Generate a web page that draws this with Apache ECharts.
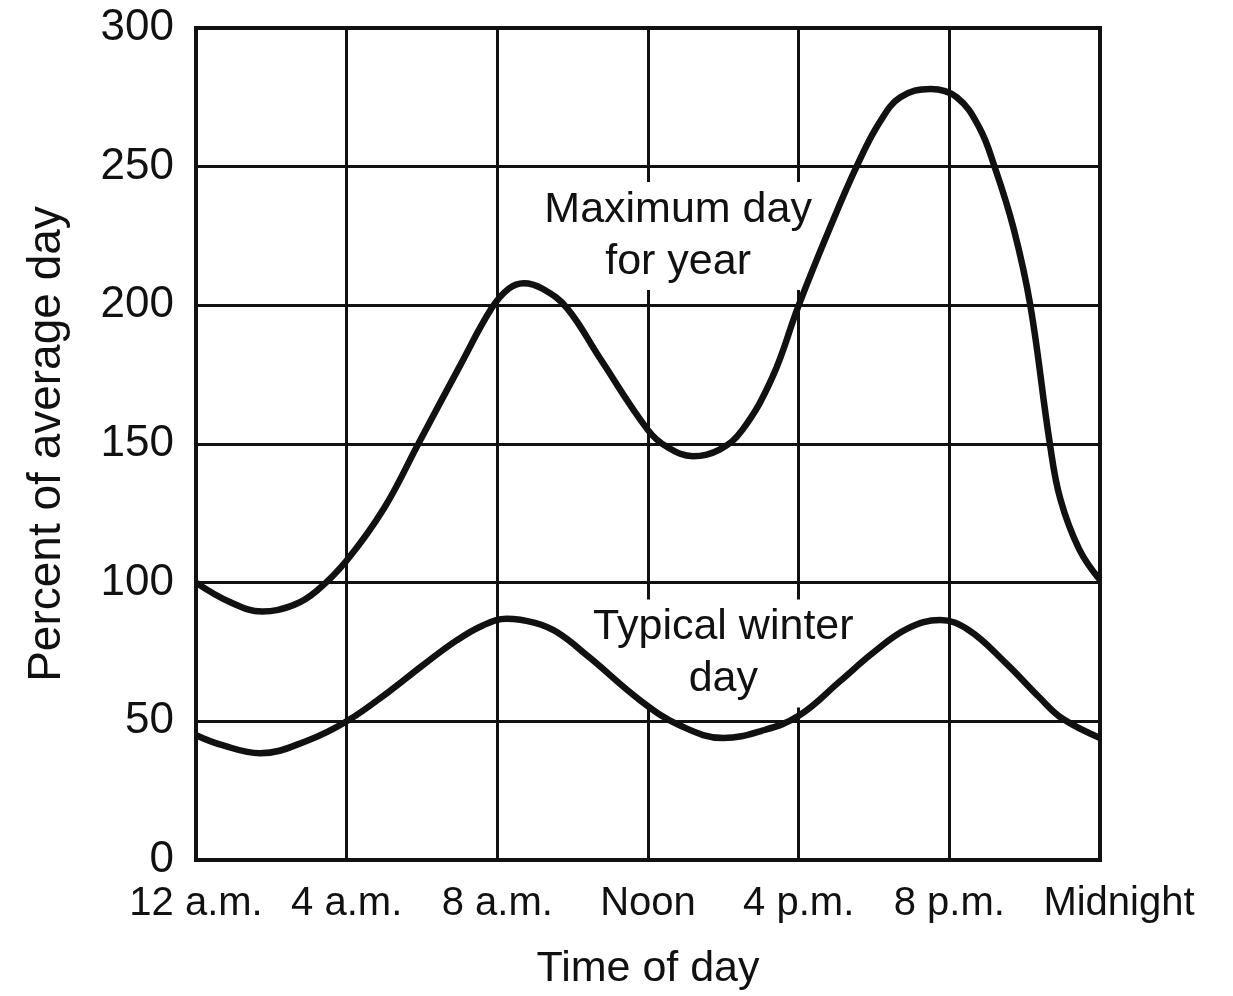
<!DOCTYPE html>
<html>
<head>
<meta charset="utf-8">
<script src="https://cdn.jsdelivr.net/npm/echarts@6/dist/echarts.min.js"></script>
<style>
html,body{margin:0;padding:0;background:#fff;}
#chart{width:1233px;height:996px;}
</style>
</head>
<body>
<div id="chart"></div>
<script>
// Hours of day (0 = 12 a.m., 24 = Midnight)
const maxHours  = [0, 0.9, 1.75, 2.6, 3.2, 4, 5, 5.9, 7, 7.85, 8.3, 8.7, 9.2, 9.85, 10.72, 12, 12.5, 13.2, 13.9, 14.5, 15.3, 16, 16.8, 17.57, 18.15, 18.7, 19.5, 20.2, 20.8, 21.2, 21.7, 22.15, 22.67, 22.95, 23.45, 24];
const maxValues = [100, 93, 89.6, 92, 97, 108, 127, 150, 178, 199, 206, 208, 206, 199, 181, 155, 149, 145.6, 148, 155, 174, 200, 227, 251, 266, 275, 278, 275, 264, 250, 228, 200, 150, 130, 112, 101];

const winterHours  = [0, 0.7, 1.7, 2.95, 4, 5.15, 6, 6.9, 7.6, 8.25, 9, 9.6, 10.45, 11.8, 12.85, 14, 15, 16, 17.1, 18, 18.9, 19.75, 20.5, 21.5, 22.4, 23, 24];
const winterValues = [45, 41.4, 38.5, 43, 50, 61, 70, 79, 84.5, 87, 85.5, 82, 73, 57.5, 48.5, 44, 46.5, 52, 64.5, 75, 83.5, 86.5, 83, 71, 58.5, 51, 44];

const xTickLabels = {0:'12 a.m.', 4:'4 a.m.', 8:'8 a.m.', 12:'Noon', 16:'4 p.m.', 20:'8 p.m.', 24:'Midnight'};
const yTickLabels = [0, 50, 100, 150, 200, 250, 300];

const FONT = '"Liberation Sans", Arial, Helvetica, sans-serif';
const INK = '#111';

const chart = echarts.init(document.getElementById('chart'), null, {renderer:'canvas'});
const pairs = (xs, ys) => xs.map((x, i) => [x, ys[i]]);

chart.setOption({
  backgroundColor: '#fff',
  animation: false,
  grid: {left: 196, right: 133, top: 28, bottom: 134, show: true, borderColor: INK, borderWidth: 4, backgroundColor: 'transparent'},
  xAxis: {
    type: 'value', min: 0, max: 24, interval: 4,
    name: 'Time of day', nameLocation: 'middle', nameGap: 88,
    nameTextStyle: {fontFamily: FONT, fontSize: 43, color: INK},
    axisLine: {show: true, lineStyle: {color: INK, width: 4}},
    axisTick: {show: false},
    axisLabel: {
      margin: 24, fontFamily: FONT, fontSize: 40, color: INK,
      formatter: v => v === 24 ? '{m|' + xTickLabels[v] + '}' : (xTickLabels[v] || ''),
      rich: {m: {fontFamily: FONT, fontSize: 40, color: INK, padding: [0, 0, 0, 38]}}
    },
    splitLine: {show: true, lineStyle: {color: INK, width: 3}}
  },
  yAxis: {
    type: 'value', min: 0, max: 300, interval: 50,
    name: 'Percent of average day', nameLocation: 'middle', nameGap: 126, nameRotate: 90,
    nameTextStyle: {fontFamily: FONT, fontSize: 46, color: INK},
    axisLine: {show: true, lineStyle: {color: INK, width: 4}},
    axisTick: {show: false},
    axisLabel: {
      margin: 22, fontFamily: FONT, fontSize: 44, color: INK,
      formatter: v => yTickLabels.includes(v) ? String(v) : ''
    },
    splitLine: {show: true, lineStyle: {color: INK, width: 3}}
  },
  series: [
    {
      name: 'Maximum day for year', type: 'line', smooth: 0.4, symbol: 'none',
      lineStyle: {color: INK, width: 6.5}, data: pairs(maxHours, maxValues), z: 5
    },
    {
      name: 'Typical winter day', type: 'line', smooth: 0.4, symbol: 'none',
      lineStyle: {color: INK, width: 6.5}, data: pairs(winterHours, winterValues), z: 5
    },
    {
      type: 'scatter', symbolSize: 0, silent: true, z: 3,
      itemStyle: {opacity: 1, color: 'transparent'},
      data: [
        {value: [12.8, 225], label: {formatter: 'Maximum day\nfor year'}},
        {value: [14.0, 74.5], label: {formatter: 'Typical winter\nday'}}
      ],
      label: {show: true, position: 'inside', fontFamily: FONT, fontSize: 43, lineHeight: 52, color: INK,
              align: 'center', verticalAlign: 'middle', backgroundColor: '#fff', padding: [2, 6]}
    }
  ]
});
</script>
</body>
</html>
